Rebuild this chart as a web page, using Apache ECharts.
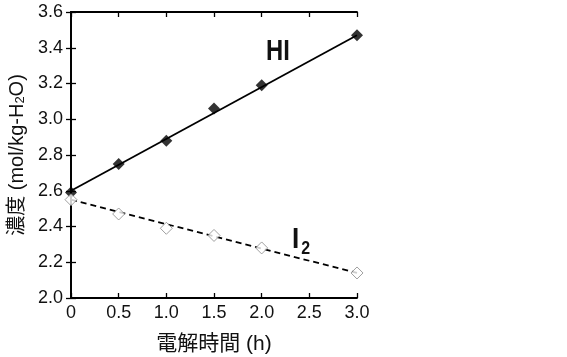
<!DOCTYPE html>
<html><head><meta charset="utf-8">
<script src="https://cdn.jsdelivr.net/npm/echarts@6/dist/echarts.min.js"></script>
<style>html,body{margin:0;padding:0;background:#fff}#c{width:567px;height:357px}</style>
</head><body><div id="c"></div>
<script>
const timeH = [0, 0.5, 1.0, 1.5, 2.0, 3.0];
const hiValues = [2.59, 2.75, 2.88, 3.06, 3.19, 3.47];
const i2Values = [2.55, 2.47, 2.39, 2.35, 2.28, 2.14];
const hiFitEnds = [[0, 2.60], [3.0, 3.47]];
const i2FitEnds = [[0, 2.55], [3.0, 2.14]];
const xTicks = ['0', '0.5', '1.0', '1.5', '2.0', '2.5', '3.0'];
const yTicks = ['2.0', '2.2', '2.4', '2.6', '2.8', '3.0', '3.2', '3.4', '3.6'];

const font = '"Liberation Sans", Arial, sans-serif';
const cjk = '"Liberation Sans", "Noto Sans CJK JP", sans-serif';
const chart = echarts.init(document.getElementById('c'), null, {renderer: 'canvas'});
const axisCommon = {
  axisLine: {show: true, lineStyle: {color: '#000', width: 1.8}},
  axisTick: {show: true, inside: true, length: 5, lineStyle: {color: '#000', width: 1.3}},
  splitLine: {show: false}
};
chart.setOption({
  animation: false,
  backgroundColor: '#fff',
  grid: {left: 71, top: 12, right: 210, bottom: 59, outerBoundsMode: 'none', containLabel: false},
  xAxis: [
    Object.assign({}, axisCommon, {
      type: 'value', min: 0, max: 3, interval: 0.5, position: 'bottom',
      axisLabel: {color: '#111', fontSize: 18, fontFamily: font, margin: 6,
        formatter: v => xTicks[Math.round(v / 0.5)]},
      name: '電解時間 (h)', nameLocation: 'middle', nameGap: 36,
      nameTextStyle: {color: '#111', fontSize: 21, fontFamily: cjk}
    }),
    Object.assign({}, axisCommon, {
      type: 'value', min: 0, max: 3, interval: 0.5, position: 'top',
      axisLabel: {show: false}
    })
  ],
  yAxis: [
    Object.assign({}, axisCommon, {
      type: 'value', min: 2.0, max: 3.6, interval: 0.2, position: 'left',
      axisLabel: {color: '#111', fontSize: 18, fontFamily: font, margin: 8,
        formatter: v => yTicks[Math.round((v - 2.0) / 0.2)]},
      name: '{a|濃度 (mol/kg-H}{s|2}{a|O)}', nameLocation: 'middle', nameGap: 44,
      nameTextStyle: {color: '#111', rich: {
        a: {fontSize: 20, fontFamily: cjk, color: '#111', verticalAlign: 'bottom', lineHeight: 22},
        s: {fontSize: 13, fontFamily: font, color: '#111', verticalAlign: 'bottom', lineHeight: 15}
      }}
    }),
    Object.assign({}, axisCommon, {
      type: 'value', min: 2.0, max: 3.6, interval: 0.2, position: 'right',
      axisLabel: {show: false}
    })
  ],
  series: [
    {type: 'line', data: hiFitEnds, symbol: 'none', silent: true,
      lineStyle: {color: '#000', width: 1.8}, z: 2},
    {type: 'line', data: i2FitEnds, symbol: 'none', silent: true,
      lineStyle: {color: '#000', width: 1.8, type: [6, 4]}, z: 2},
    {type: 'scatter', data: timeH.map((t, i) => [t, hiValues[i]]),
      symbol: 'diamond', symbolSize: 12, itemStyle: {color: '#000'}, z: 3},
    {type: 'scatter', data: timeH.map((t, i) => [t, i2Values[i]]),
      symbol: 'diamond', symbolSize: 12,
      itemStyle: {color: '#fff', borderColor: '#888', borderWidth: 1}, z: 3,
      clip: false}
  ],
  graphic: [
    {type: 'text', x: 266, y: 37, scaleX: 0.85, scaleY: 1.05, style: {text: 'HI', fill: '#111',
      font: 'bold 28px "Liberation Sans", sans-serif'}},
    {type: 'text', x: 292, y: 226, scaleY: 1.1, style: {text: '{a|I}{s|2}', fill: '#111',
      rich: {a: {font: 'bold 26px "Liberation Sans", sans-serif', fill: '#111', verticalAlign: 'bottom'},
             s: {font: 'bold 16px "Liberation Sans", sans-serif', fill: '#111', verticalAlign: 'bottom', padding: [0,0,-3,2]}}}}
  ]
});
</script></body></html>
